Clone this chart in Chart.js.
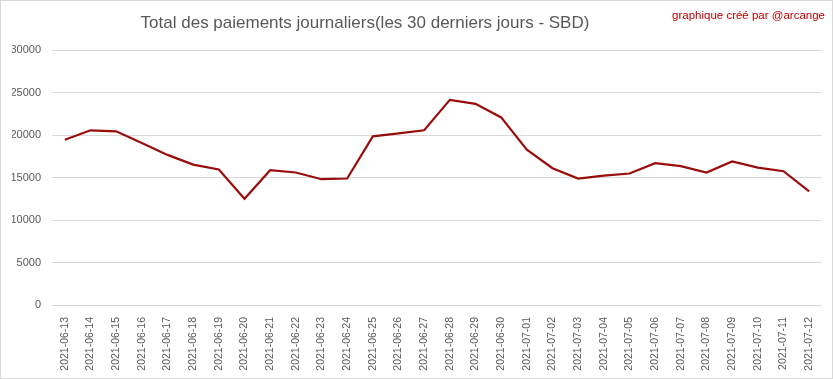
<!DOCTYPE html>
<html>
<head>
<meta charset="utf-8">
<script src="https://cdn.jsdelivr.net/npm/chart.js@4/dist/chart.umd.min.js"></script>
<style>
    html, body { margin: 0; padding: 0; background: #fff; }
    #wrap { position: relative; width: 833px; height: 379px; }
    #frame { position: absolute; left: 0; top: 0; width: 833px; height: 379px;
             box-sizing: border-box; border: 1px solid #d9d9d9; pointer-events: none; }
    #titre { position: absolute; left: 0; width: 730px; top: 13px; text-align: center;
             font: 17px "Liberation Sans", sans-serif; color: #595959; }
    #credit { position: absolute; right: 8px; top: 9px; font: 11.5px "Liberation Sans", sans-serif;
              color: #c00000; }
</style>
</head>
<body>
<div id="wrap">
    <canvas id="paiementsChart" width="833" height="379"></canvas>
    <div id="titre">Total des paiements journaliers(les 30 derniers jours - SBD)</div>
    <div id="credit">graphique créé par @arcange</div>
    <div id="frame"></div>
</div>
<script>
"use strict";

var dates = [
    '2021-06-13', '2021-06-14', '2021-06-15', '2021-06-16', '2021-06-17', '2021-06-18',
    '2021-06-19', '2021-06-20', '2021-06-21', '2021-06-22', '2021-06-23', '2021-06-24',
    '2021-06-25', '2021-06-26', '2021-06-27', '2021-06-28', '2021-06-29', '2021-06-30',
    '2021-07-01', '2021-07-02', '2021-07-03', '2021-07-04', '2021-07-05', '2021-07-06',
    '2021-07-07', '2021-07-08', '2021-07-09', '2021-07-10', '2021-07-11', '2021-07-12'
];
var paiements = [
    19450, 20550, 20430, 19060, 17660, 16520,
    15940, 12500, 15860, 15590, 14800, 14880,
    19840, 20200, 20550, 24140, 23670, 22070,
    18280, 16090, 14880, 15230, 15470, 16680,
    16330, 15590, 16880, 16170, 15740, 13360
];
var yTicks = [0, 5000, 10000, 15000, 20000, 25000, 30000];

var ctx = document.getElementById('paiementsChart').getContext('2d');
var chart = new Chart(ctx, {
    type: 'line',
    data: {
        labels: dates,
        datasets: [{
            label: 'SBD',
            data: paiements,
            borderColor: '#9a0d0d',
            borderWidth: 2.2,
            pointRadius: 0,
            tension: 0,
            fill: false
        }]
    },
    options: {
        responsive: false,
        animation: false,
        layout: { padding: { left: 12, right: 11, top: 50, bottom: 0 } },
        plugins: {
            legend: { display: false },
            tooltip: { enabled: false },
            title: { display: false }
        },
        scales: {
            x: {
                offset: true,
                grid: { display: false },
                border: { display: false },
                ticks: {
                    minRotation: 90,
                    maxRotation: 90,
                    autoSkip: false,
                    padding: 4,
                    color: '#595959',
                    font: { family: 'Liberation Sans', size: 10.5 }
                },
                afterFit: function(scale) { scale.height = 74; }
            },
            y: {
                min: 0,
                max: 30000,
                afterBuildTicks: function(scale) {
                    scale.ticks = yTicks.map(function(v) { return { value: v }; });
                },
                grid: { color: '#d9d9d9', lineWidth: 1, drawTicks: false },
                border: { display: false },
                ticks: {
                    padding: 11,
                    color: '#595959',
                    font: { family: 'Liberation Sans', size: 11 },
                    callback: function(value) { return String(value); }
                },
                afterFit: function(scale) { scale.width = 40; }
            }
        }
    }
});
</script>
</body>
</html>
